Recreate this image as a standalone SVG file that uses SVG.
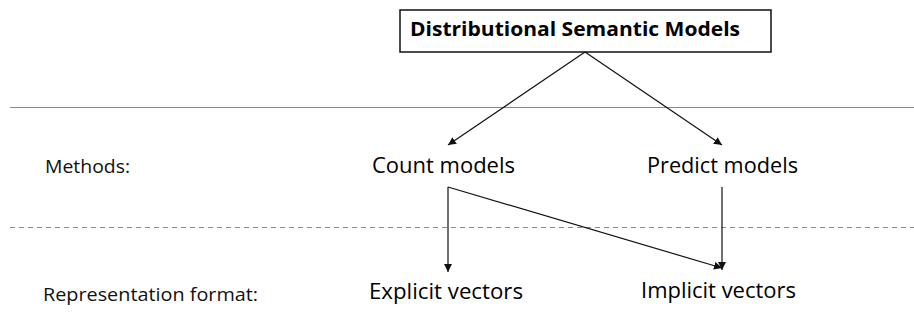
<svg xmlns="http://www.w3.org/2000/svg" width="914" height="333" viewBox="0 0 914 333">
  <style>
    .node { font-family: "Open Sans", "Noto Sans", "Liberation Sans", sans-serif; font-size: 21.5px; fill: #000; }
    .title { font-weight: bold; font-size: 19.5px; }
    .label { font-family: "Open Sans", "Noto Sans", "Liberation Sans", sans-serif; font-size: 19px; fill: #111; }
    .rule { stroke: #8a8a8a; stroke-width: 1.2; fill: none; }
    .dash { stroke-dasharray: 5 4; }
    .edge { stroke: #111; stroke-width: 1.2; fill: none; marker-end: url(#arrow); }
  </style>
  <defs>
    <marker id="arrow" viewBox="0 0 10 10" refX="10" refY="5" markerWidth="8" markerHeight="8" markerUnits="userSpaceOnUse" orient="auto">
      <path d="M0,0 L10,5 L0,10 z" fill="#111"/>
    </marker>
  </defs>
  <rect width="914" height="333" fill="#fff"/>

  <!-- layer separators -->
  <g id="separators">
    <line class="rule" x1="10" y1="107.5" x2="914" y2="107.5"/>
    <line class="rule dash" x1="10" y1="227.5" x2="914" y2="227.5"/>
  </g>

  <!-- row labels -->
  <g id="row-labels">
    <text class="label" x="45" y="173.3" textLength="85" lengthAdjust="spacingAndGlyphs">Methods:</text>
    <text class="label" x="43" y="301" textLength="215" lengthAdjust="spacingAndGlyphs">Representation format:</text>
  </g>

  <g id="dsm">
    <rect x="400" y="10" width="371" height="42" fill="#fff" stroke="#111" stroke-width="1.5"/>
    <text class="node title" x="410" y="36" textLength="330" lengthAdjust="spacingAndGlyphs">Distributional Semantic Models</text>
  </g>
  <g id="count-models">
    <text class="node" x="372" y="173.3" textLength="143" lengthAdjust="spacingAndGlyphs">Count models</text>
  </g>
  <g id="predict-models">
    <text class="node" x="647" y="173.3" textLength="151" lengthAdjust="spacingAndGlyphs">Predict models</text>
  </g>
  <g id="explicit-vectors">
    <text class="node" x="369" y="299" textLength="154" lengthAdjust="spacingAndGlyphs">Explicit vectors</text>
  </g>
  <g id="implicit-vectors">
    <text class="node" x="641" y="298" textLength="155" lengthAdjust="spacingAndGlyphs">Implicit vectors</text>
  </g>

  <g id="connectors">
    <line class="edge" x1="585" y1="52" x2="448" y2="145"/>
    <line class="edge" x1="585" y1="52" x2="722" y2="145"/>
    <line class="edge" x1="448" y1="187" x2="448" y2="272"/>
    <line class="edge" x1="448" y1="187" x2="722" y2="268"/>
    <line class="edge" x1="722" y1="187" x2="722" y2="270"/>
  </g>
</svg>
